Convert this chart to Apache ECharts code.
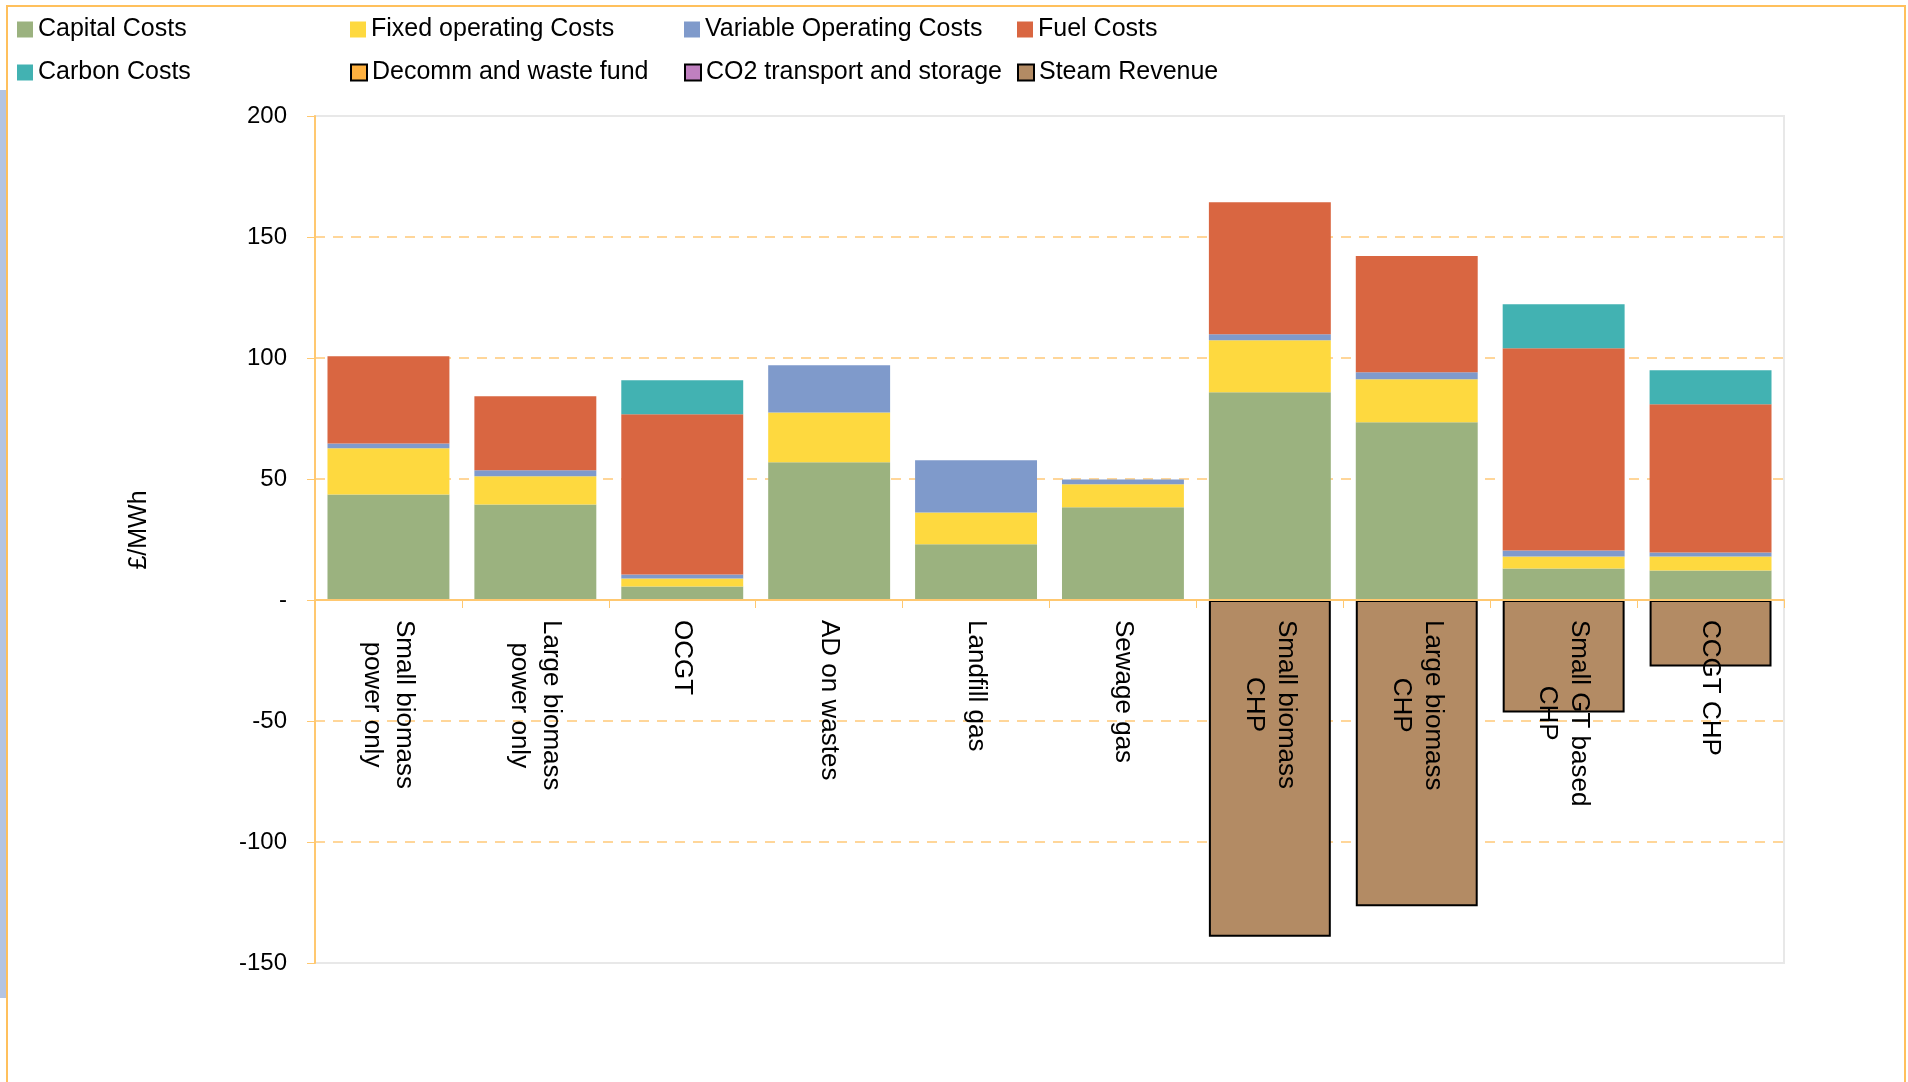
<!DOCTYPE html>
<html>
<head>
<meta charset="utf-8">
<script src="https://cdn.jsdelivr.net/npm/echarts@6/dist/echarts.min.js"></script>
<style>
html,body{margin:0;padding:0;background:#fff;}
#chart{width:1908px;height:1082px;}
</style>
</head>
<body>
<div id="chart"></div>
<script>
const categories = ['Small biomass\npower only', 'Large biomass\npower only', 'OCGT', 'AD on wastes', 'Landfill gas', 'Sewage gas', 'Small biomass\nCHP', 'Large biomass\nCHP', 'Small GT based\nCHP', 'CCGT CHP'];
const seriesNames = ['Capital Costs', 'Fixed operating Costs', 'Variable Operating Costs', 'Fuel Costs', 'Carbon Costs', 'Decomm and waste fund', 'CO2 transport and storage', 'Steam Revenue'];
const capitalCosts = [43.6, 39.5, 5.6, 56.9, 23.0, 38.3, 85.8, 73.4, 13.0, 12.2];
const fixedOpCosts = [19.1, 11.6, 3.3, 20.6, 13.2, 9.5, 21.5, 17.8, 5.0, 5.8];
const variableOpCosts = [2.0, 2.5, 1.6, 19.5, 21.5, 2.0, 2.5, 2.9, 2.5, 1.6];
const fuelCosts = [36.0, 30.6, 66.3, null, null, null, 54.6, 48.0, 83.5, 61.3];
const carbonCosts = [null, null, 14.0, null, null, null, null, null, 18.2, 14.0];
const decommFund = [null, null, null, null, null, null, null, null, null, null];
const co2Transport = [null, null, null, null, null, null, null, null, null, null];
const steamRevenue = [null, null, null, null, null, null, -139.2, -126.6, -46.5, -27.5];
const yTicks = [-150, -100, -50, 0, 50, 100, 150, 200];
const yTitle = '£/MWh';

const colors = ['#9BB27F', '#FED93F', '#7F9ACB', '#D96641', '#42B2B2', '#FFB13F', '#C080C0', '#B38B64'];
const bordered = [false, false, false, false, false, true, true, true];
const dataSets = [capitalCosts, fixedOpCosts, variableOpCosts, fuelCosts, carbonCosts, decommFund, co2Transport, steamRevenue];
const FONT = 'Liberation Sans, Arial, sans-serif';

const GRID_TOP = 116, GRID_BOTTOM = 119, H = 1082;
const plotH = H - GRID_TOP - GRID_BOTTOM;
const yMin = yTicks[0], yMax = yTicks[yTicks.length - 1];
// distance from grid bottom up to the zero line (axis placement)
const zeroOffset = plotH * (0 - yMin) / (yMax - yMin);

const series = seriesNames.map((name, i) => ({
  name: name,
  type: 'bar',
  stack: 'total',
  barCategoryGap: '17%',
  data: dataSets[i],
  itemStyle: bordered[i] ? {color: colors[i], borderColor: '#000', borderWidth: 2} : {color: colors[i]}
}));

const legendPos = [[17, 17], [350, 17], [684, 17], [1017, 17], [17, 60], [350, 60], [684, 60], [1017, 60]];
const legends = seriesNames.map((name, i) => ({
  data: [name],
  left: legendPos[i][0],
  top: legendPos[i][1],
  padding: 0,
  itemWidth: 16,
  itemHeight: 16,
  icon: 'rect',
  selectedMode: false,
  textStyle: {fontSize: 25, color: '#000', fontFamily: FONT}
}));

const chart = echarts.init(document.getElementById('chart'), null, {renderer: 'canvas'});
chart.setOption({
  backgroundColor: '#fff',
  animation: false,
  legend: legends,
  grid: {left: 315, right: 124, top: GRID_TOP, bottom: GRID_BOTTOM, outerBoundsMode: 'none', containLabel: false,
         show: true, borderColor: '#E8E8E8', borderWidth: 2, backgroundColor: 'transparent'},
  xAxis: {
    type: 'category',
    data: categories,
    z: 10,
    position: 'bottom',
    offset: -zeroOffset,
    axisLine: {show: true, onZero: false, lineStyle: {color: '#FFC870', width: 2}},
    axisTick: {show: true, length: 8, lineStyle: {color: '#FFC870', width: 1}},
    axisLabel: {
      rotate: -90,
      margin: 20,
      interval: 0,
      hideOverlap: false,
      color: '#000',
      fontFamily: FONT,
      fontSize: 26,
      lineHeight: 32,
      formatter: function (v) {
        return v.split('\n').map(s => '{c|' + s + '}').join('\n');
      },
      rich: {c: {align: 'center', fontSize: 26, lineHeight: 32, color: '#000', fontFamily: FONT}}
    },
    splitLine: {show: false}
  },
  yAxis: {
    type: 'value',
    min: yMin,
    max: yMax,
    interval: 50,
    axisLine: {show: true, lineStyle: {color: '#FFC870', width: 2}},
    axisTick: {show: true, length: 8, lineStyle: {color: '#FFC870', width: 1}},
    axisLabel: {
      margin: 28,
      color: '#000',
      fontSize: 24,
      fontFamily: FONT,
      formatter: v => (v === 0 ? '-' : String(v))
    },
    splitLine: {show: true, showMinLine: false, showMaxLine: false, lineStyle: {color: '#FFD699', width: 2, type: [10, 8]}}
  },
  graphic: [
    {type: 'rect', silent: true, z: -1, shape: {x: 0, y: 90, width: 6, height: 908}, style: {fill: '#B4C4E2'}},
    {type: 'rect', silent: true, z: 100, shape: {x: 7, y: 6, width: 1898, height: 1100}, style: {fill: 'none', stroke: '#FFC05C', lineWidth: 2}},
    {type: 'text', silent: true, x: 139, y: 530, rotation: Math.PI / 2,
     style: {text: yTitle, fontSize: 25, fontFamily: FONT, fill: '#000', align: 'center', verticalAlign: 'middle'}}
  ],
  series: series
});
</script>
</body>
</html>
